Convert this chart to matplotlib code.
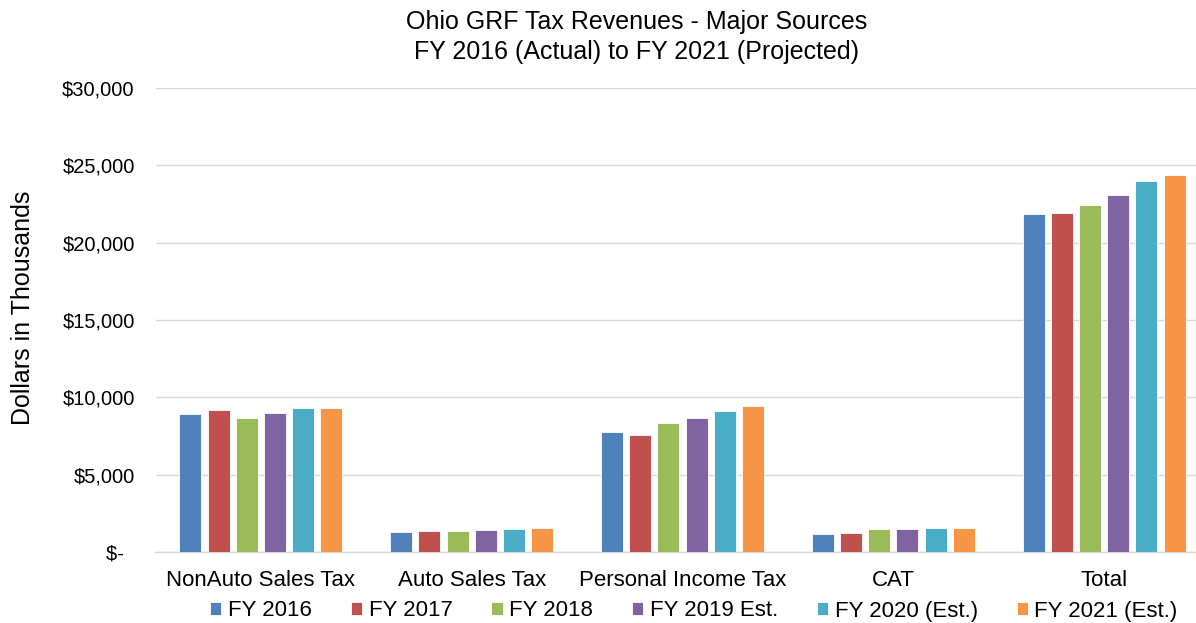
import matplotlib
matplotlib.use("Agg")
import matplotlib.pyplot as plt
import numpy as np
from matplotlib.ticker import FixedLocator

plt.rcParams['font.family'] = ['Liberation Sans', 'DejaVu Sans']

categories = ["NonAuto Sales Tax", "Auto Sales Tax", "Personal Income Tax", "CAT", "Total"]
series_names = ["FY 2016", "FY 2017", "FY 2018", "FY 2019 Est.", "FY 2020 (Est.)", "FY 2021 (Est.)"]
fy2016 = [8920, 1300, 7740, 1160, 21830]
fy2017 = [9180, 1360, 7540, 1230, 21900]
fy2018 = [8660, 1360, 8360, 1490, 22450]
fy2019 = [8970, 1420, 8660, 1490, 23080]
fy2020 = [9290, 1490, 9110, 1550, 24000]
fy2021 = [9290, 1530, 9440, 1550, 24390]
series = [fy2016, fy2017, fy2018, fy2019, fy2020, fy2021]
colors = ["#4F81BD", "#C0504D", "#9BBB59", "#8064A2", "#4BACC6", "#F79646"]
yticks = [0, 5000, 10000, 15000, 20000, 25000, 30000]
ytick_labels = ["$-  ", "$5,000", "$10,000", "$15,000", "$20,000", "$25,000", "$30,000"]

W, H = 1196, 623
fig = plt.figure(figsize=(W/100, H/100), dpi=100)
left_px, right_px = 155.5, 1209.5
ax = fig.add_axes([left_px/W, 1-552/H, (right_px-left_px)/W, (552-88)/H])

x = np.arange(len(categories))
step = 28.2/210.8
width = 22/210.8
n = len(series)
for i, (vals, name, c) in enumerate(zip(series, series_names, colors)):
    ax.bar(x + (i - (n-1)/2) * step, vals, width, color=c, label=name,
           edgecolor='white', linewidth=0.6, zorder=3)

ax.set_xlim(-0.5, len(categories) - 0.5)
ax.set_ylim(0, 30000)
ax.yaxis.set_major_locator(FixedLocator(yticks))
ax.set_yticklabels(ytick_labels, fontsize=14.5)
ax.set_xticks(x)
ax.set_xticklabels(categories, fontsize=16)
ax.tick_params(axis='both', length=0, colors='#000000')
ax.tick_params(axis='y', pad=15)
ax.tick_params(axis='x', pad=13)
ax.grid(axis='y', color='#D9D9D9', linewidth=1, zorder=0)
for s in ['top', 'right', 'left']:
    ax.spines[s].set_visible(False)
ax.spines['bottom'].set_color('#D9D9D9')
ax.spines['bottom'].set_linewidth(1)

ax.set_ylabel("Dollars in Thousands", fontsize=18)
ax.yaxis.set_label_coords(-(left_px-35)/(right_px-left_px), (552-307.5)/464)

fig.text(637/W, 1-37/H, "Ohio GRF Tax Revenues - Major Sources\nFY 2016 (Actual) to FY 2021 (Projected)",
         ha='center', va='center', fontsize=18, linespacing=1.3)

fig.legend(loc='center', bbox_to_anchor=(694/W, 1-611/H), ncol=6, frameon=False,
           fontsize=16, handlelength=0.5, handleheight=0.5, handletextpad=0.3,
           columnspacing=1.75, borderpad=0)

fig.savefig("out.png", dpi=100)
